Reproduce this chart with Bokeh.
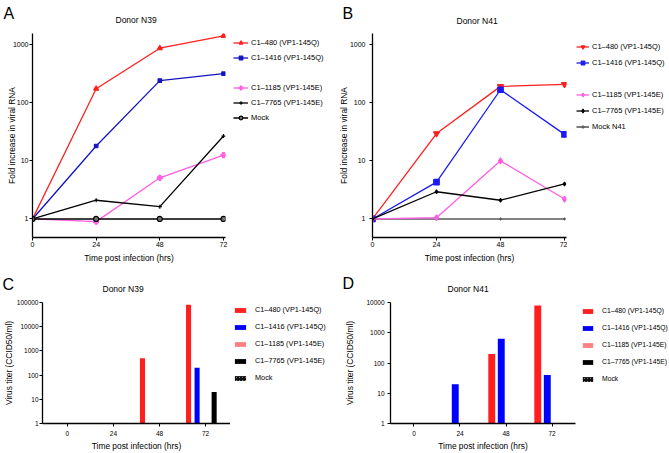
from bokeh.plotting import figure
from bokeh.layouts import column, row
from bokeh.models import (Legend, LegendItem, Label, FixedTicker, NumeralTickFormatter,
                          Range1d, FactorRange, ColumnDataSource)
from bokeh.transform import dodge
from bokeh.embed import file_html
from bokeh.resources import INLINE

FONT = "Liberation Sans"

# ---------------- data ----------------
hours = [0, 24, 48, 72]
strain_labels = ["C1\u2013480 (VP1-145Q)", "C1\u20131416 (VP1-145Q)",
                 "C1\u20131185 (VP1-145E)", "C1\u20137765 (VP1-145E)"]

# Panel A: Donor N39, fold increase in viral RNA
a_480 = [1, 174, 865, 1410]
a_1416 = [1, 18, 240, 316]
a_1185 = [1, 0.9, 5.1, 12.5]
a_7765 = [1, 2.1, 1.63, 26.7]
a_mock = [1, 1, 1, 1]

# Panel B: Donor N41, fold increase in viral RNA
b_480 = [1, 29.5, 191, 207]
b_1416 = [1, 4.3, 167, 28.5]
b_1185 = [1, 1.05, 10, 2.2]
b_7765 = [1, 2.94, 2.1, 4.0]
b_mock = [1, 1, 1, 1]

# Panels C/D: virus titer (CCID50/ml); 1 = not detected
time_labels = ["0", "24", "48", "72"]
c_480 = [1, 1, 500, 80000]
c_1416 = [1, 1, 1, 200]
c_1185 = [1, 1, 1, 1]
c_7765 = [1, 1, 1, 20]
c_mock = [1, 1, 1, 1]

d_480 = [1, 1, 200, 8000]
d_1416 = [1, 20, 630, 40]
d_1185 = [1, 1, 1, 1]
d_7765 = [1, 1, 1, 1]
d_mock = [1, 1, 1, 1]

RED = "#FF1F1F"
BLUE_A = "#1414C0"
BLUE_B = "#1A1AF5"
PINK = "#FF5FE0"
SALMON = "#FF8080"
BLACK = "#000000"
HATCH = dict(fill_color="white", line_color=None, hatch_pattern="\\",
             hatch_color="black", hatch_scale=3, hatch_weight=1.3)


def clean(p):
    p.grid.visible = False
    p.outline_line_color = None
    p.background_fill_color = None
    p.border_fill_color = None


def style_axes(p, tick_size="7px"):
    clean(p)
    for ax in (p.xaxis[0], p.yaxis[0]):
        ax.axis_line_width = 1.3
        ax.axis_line_color = "black"
        ax.major_tick_line_color = "black"
        ax.major_tick_line_width = 1
        ax.major_tick_out = 3
        ax.major_tick_in = 0
        ax.minor_tick_line_color = None
        ax.major_label_text_font = FONT
        ax.major_label_text_font_size = tick_size
        ax.major_label_text_color = "black"
        ax.major_label_standoff = 1
        ax.axis_label_text_font = FONT
        ax.axis_label_text_font_size = "8.4px"
        ax.axis_label_text_font_style = "normal"
        ax.axis_label_text_color = "black"


def legend_fig(width, height, bottom):
    # a panel holding only the legend; its sample glyphs lie outside its ranges
    f = figure(width=width, height=height, x_range=Range1d(-3, -2), y_range=Range1d(-3, -2),
               x_axis_location=None, y_axis_location=None, output_backend="svg",
               toolbar_location=None, min_border_left=0, min_border_top=5,
               min_border_right=0, min_border_bottom=bottom)
    clean(f)
    return f


def make_legend(items, glyph_w, glyph_h, spacing, standoff, margin, font="7.5px", label_h=9):
    return Legend(items=items, location="top_left", orientation="vertical",
                  glyph_width=glyph_w, glyph_height=glyph_h, label_height=label_h,
                  label_standoff=standoff, spacing=spacing, padding=0, margin=margin,
                  border_line_color=None, background_fill_alpha=0,
                  label_text_font=FONT, label_text_font_size=font,
                  label_text_color="black")


def series(p, lf, x, y, color, marker, msize, lw=1.3, mfill=None, mline=None):
    kw_line = dict(line_color=color, line_width=lw)
    kw_sc = dict(marker=marker, size=msize, fill_color=mfill if mfill else color,
                 line_color=mline if mline else color, line_width=1.2)
    p.line(x, y, **kw_line)
    p.scatter(x, y, **kw_sc)
    return [lf.line(x, y, **kw_line), lf.scatter(x, y, **kw_sc)]


def gap_item(lf):
    return LegendItem(label=" ", renderers=[lf.line(hours, hours, line_alpha=0)])


def strip(height, texts):
    s = figure(width=669, height=height, x_range=Range1d(0, 669), y_range=Range1d(height, 0),
               x_axis_location=None, y_axis_location=None, output_backend="svg",
               toolbar_location=None, min_border=0)
    clean(s)
    for txt, x, y, size in texts:
        s.add_layout(Label(x=x, y=y, text=txt, text_font=FONT, text_font_size=size,
                           text_baseline="middle", text_align="left", text_color="black"))
    return s


# ---------------- title strips ----------------
top_strip = strip(28, [("A", 3, 12.5, "16px"), ("Donor N39", 115, 19.5, "8.5px"),
                       ("B", 342, 12.5, "16px"), ("Donor N41", 456, 20, "8.5px")])
mid_strip = strip(32, [("C", 2, 19, "16px"), ("Donor N39", 102, 23, "8.5px"),
                       ("D", 342, 18, "16px"), ("Donor N41", 447, 23, "8.5px")])

# ---------------- Panel A ----------------
pA = figure(width=228, height=237, y_axis_type="log", output_backend="svg",
            toolbar_location=None, x_range=Range1d(0, 72.75), y_range=Range1d(0.48, 1550),
            min_border_left=32, min_border_right=3, min_border_top=5, min_border_bottom=28)
style_axes(pA)
pA.xaxis.ticker = FixedTicker(ticks=hours)
pA.yaxis.ticker = FixedTicker(ticks=[1, 10, 100, 1000])
pA.yaxis.formatter = NumeralTickFormatter(format="0")
pA.xaxis.axis_label = "Time post infection (hrs)"
pA.yaxis.axis_label = "Fold increase in viral RNA"
pA.xaxis.axis_label_standoff = 3
pA.yaxis.axis_label_standoff = -7
lA = legend_fig(107, 237, 28)

la1 = series(pA, lA, hours, a_480, RED, "triangle", 5)
la2 = series(pA, lA, hours, a_1416, BLUE_A, "square", 3.5)
la3 = series(pA, lA, hours, a_1185, PINK, "plus", 5)
la4 = series(pA, lA, hours, a_7765, BLACK, "cross", 4)
la5 = series(pA, lA, hours, a_mock, BLACK, "circle", 5, lw=1.5, mfill="#777777", mline="black")

lA.add_layout(make_legend([LegendItem(label=strain_labels[0], renderers=la1),
                           LegendItem(label=strain_labels[1], renderers=la2),
                           gap_item(lA),
                           LegendItem(label=strain_labels[2], renderers=la3),
                           LegendItem(label=strain_labels[3], renderers=la4),
                           LegendItem(label="Mock", renderers=la5)],
                          15, 9, 6, 3, 5))

# ---------------- Panel B ----------------
pB = figure(width=232, height=237, y_axis_type="log", output_backend="svg",
            toolbar_location=None, x_range=Range1d(0, 72.75), y_range=Range1d(0.48, 1550),
            min_border_left=37, min_border_right=1, min_border_top=5, min_border_bottom=28)
style_axes(pB)
pB.xaxis.ticker = FixedTicker(ticks=hours)
pB.yaxis.ticker = FixedTicker(ticks=[1, 10, 100, 1000])
pB.yaxis.formatter = NumeralTickFormatter(format="0")
pB.xaxis.axis_label = "Time post infection (hrs)"
pB.yaxis.axis_label = "Fold increase in viral RNA"
pB.xaxis.axis_label_standoff = 3
pB.yaxis.major_label_standoff = 4
pB.yaxis.axis_label_standoff = -2
lB = legend_fig(102, 237, 28)

lb5 = series(pB, lB, hours, b_mock, "#5A5A5A", "cross", 3, lw=1.6)
lb1 = series(pB, lB, hours, b_480, RED, "inverted_triangle", 6)
lb2 = series(pB, lB, hours, b_1416, BLUE_B, "square", 5.5)
lb3 = series(pB, lB, hours, b_1185, PINK, "diamond", 6)
lb4 = series(pB, lB, hours, b_7765, BLACK, "diamond", 4)

lB.add_layout(make_legend([LegendItem(label=strain_labels[0], renderers=lb1),
                           LegendItem(label=strain_labels[1], renderers=lb2),
                           gap_item(lB),
                           LegendItem(label=strain_labels[2], renderers=lb3),
                           LegendItem(label=strain_labels[3], renderers=lb4),
                           LegendItem(label="Mock N41", renderers=lb5)],
                          13, 9, 7, 3, 9))


# ---------------- bar panels ----------------
def bar_panel(width, height, src, names, colors, offs, bw, ymax, yticks, border_left,
              border_right, ylabel_standoff, ytick_standoff, lf):
    p = figure(width=width, height=height, y_axis_type="log", output_backend="svg",
               toolbar_location=None,
               x_range=FactorRange(factors=time_labels, range_padding=0.0),
               y_range=Range1d(1, ymax),
               min_border_left=border_left, min_border_right=border_right, min_border_top=5,
               min_border_bottom=29)
    style_axes(p, tick_size="6.5px")
    p.yaxis.ticker = FixedTicker(ticks=yticks)
    p.yaxis.formatter = NumeralTickFormatter(format="0")
    p.xaxis.axis_label = "Time post infection (hrs)"
    p.yaxis.axis_label = "Virus titer (CCID50/ml)"
    p.xaxis.axis_label_standoff = 2
    p.xaxis.major_label_standoff = 4
    p.yaxis.axis_label_standoff = ylabel_standoff
    p.yaxis.major_label_standoff = ytick_standoff
    samples = []
    for name, color, off in zip(names, colors, offs):
        kw = HATCH if color == "hatch" else dict(fill_color=color, line_color=None)
        p.vbar(x=dodge("t", off, range=p.x_range), top=name, bottom=1, width=bw,
               source=src, **kw)
        # legend sample: same values, placed outside the legend panel's ranges
        samples.append(lf.vbar(x=list(range(len(time_labels))), top=src.data[name],
                               width=0.5, **kw))
    return p, samples


srcC = ColumnDataSource(dict(t=time_labels, v480=c_480, v1416=c_1416, v1185=c_1185,
                             v7765=c_7765, vmock=c_mock))
lC = legend_fig(105, 156, 29)
pC, sc = bar_panel(230, 156, srcC, ["v480", "v1416", "v1185", "v7765", "vmock"],
                   [RED, "#0000FF", SALMON, BLACK, "hatch"],
                   [-0.37, -0.185, 0.0, 0.185, 0.37], 0.11, 100000,
                   [1, 10, 100, 1000, 10000, 100000], 42, 0, 0, 1, lC)
pC.x_range.range_padding = 0.02
lC.add_layout(make_legend([LegendItem(label=strain_labels[0], renderers=[sc[0]]),
                           LegendItem(label=strain_labels[1], renderers=[sc[1]]),
                           LegendItem(label=strain_labels[2], renderers=[sc[2]]),
                           LegendItem(label=strain_labels[3], renderers=[sc[3]]),
                           LegendItem(label="Mock", renderers=[sc[4]])],
                          14, 6, 8, 8, 3, font="7.3px"))

srcD = ColumnDataSource(dict(t=time_labels, v480=d_480, v1416=d_1416, v1185=d_1185,
                             v7765=d_7765, vmock=d_mock))
lD = legend_fig(92, 156, 29)
pD, sd = bar_panel(242, 156, srcD, ["v480", "v1416", "v1185", "v7765"],
                   [RED, "#0000FF", SALMON, BLACK],
                   [-0.31, -0.103, 0.103, 0.31], 0.15, 10000,
                   [1, 10, 100, 1000, 10000], 55, 2, 8, 3, lD)
pD.x_range.range_padding = 0.005
mockD = lD.vbar(x=list(range(len(time_labels))), top=d_mock, width=0.5, **HATCH)
lD.add_layout(make_legend([LegendItem(label=strain_labels[0], renderers=[sd[0]]),
                           LegendItem(label=strain_labels[1], renderers=[sd[1]]),
                           LegendItem(label=strain_labels[2], renderers=[sd[2]]),
                           LegendItem(label=strain_labels[3], renderers=[sd[3]]),
                           LegendItem(label="Mock", renderers=[mockD])],
                          13, 6, 8, 8, 4, font="6.8px"))

layout = column(top_strip, row(pA, lA, pB, lB), mid_strip, row(pC, lC, pD, lD))
open("out.html", "w").write(file_html(layout, INLINE))
